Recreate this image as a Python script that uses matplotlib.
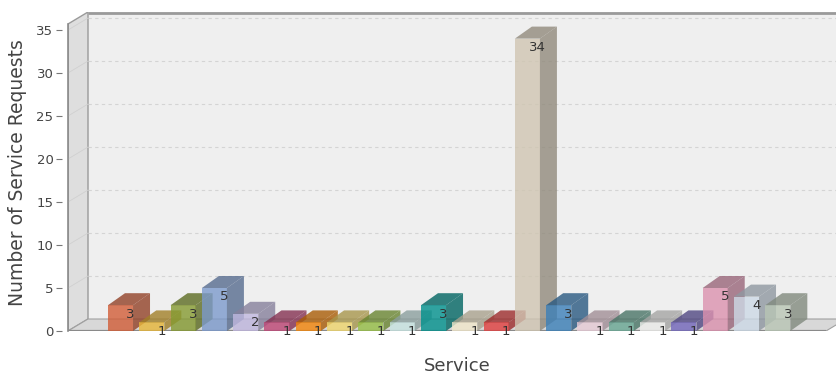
import matplotlib
matplotlib.use("Agg")
import matplotlib.pyplot as plt
from matplotlib.patches import Polygon
import numpy as np

# ---- data ----
services = [f"S{i+1}" for i in range(22)]
requests = [3, 1, 3, 5, 2, 1, 1, 1, 1, 1, 3, 1, 1, 34, 3, 1, 1, 1, 1, 5, 4, 3]
y_ticks = [0, 5, 10, 15, 20, 25, 30, 35]
x_label = "Service"
y_label = "Number of Service Requests"

# apparent front-face colours
colors = ["#d77a5c", "#e9c25e", "#9aab57", "#93abd3", "#c9c2e2", "#c8688e",
          "#f29a38", "#f0dc88", "#a8c868", "#cfe6e4", "#2fa3a0", "#f1e9d2",
          "#e36262", "#d6cdbe", "#5f95c3", "#e9d3dc", "#84b6a6", "#eeeeec",
          "#8c82c6", "#dfa4bb", "#d3dde8", "#c3cdc0"]

W, H = 837, 377
DPI = 100
fig = plt.figure(figsize=(W / DPI, H / DPI), dpi=DPI)
fig.patch.set_facecolor("white")

# pixel geometry
ax_left, ax_right = 68, 837
y0_px, ytop_px = 331, 12
px_per_unit_y = 301 / 35.0
px_per_cat = 31.3
first_center_px = 120.5

ax = fig.add_axes([ax_left / W, (H - y0_px) / H, (ax_right - ax_left) / W, (y0_px - ytop_px) / H])
ax.set_xlim((ax_left - first_center_px) / px_per_cat, (ax_right - first_center_px) / px_per_cat)
ax.set_ylim(0, (y0_px - ytop_px) / px_per_unit_y)
ax.set_facecolor("none")
for s in ax.spines.values():
    s.set_visible(False)
ax.spines["left"].set_position(("outward", 4))

x_min, _ = ax.get_xlim()
_, y_max = ax.get_ylim()
wall_dx = 20 / px_per_cat
wall_dy = 12 / px_per_unit_y
front_right = (826 - first_center_px) / px_per_cat
front_top = y_max - wall_dy

bg = np.array([0xef, 0xef, 0xef]) / 255.0

# back wall
ax.add_patch(Polygon([(x_min + wall_dx, wall_dy), (front_right + wall_dx + 2, wall_dy),
                      (front_right + wall_dx + 2, y_max), (x_min + wall_dx, y_max)],
                     closed=True, facecolor="#efefef", edgecolor="none", zorder=0))
ax.plot([x_min + wall_dx, front_right + wall_dx + 2], [y_max - 0.1, y_max - 0.1],
        color="#9a9a9a", lw=2, zorder=1, solid_capstyle="butt")
# left wall
ax.add_patch(Polygon([(x_min, 0), (x_min + wall_dx, wall_dy), (x_min + wall_dx, y_max),
                      (x_min, front_top)], closed=True, facecolor="#dedede",
                     edgecolor="#9a9a9a", lw=1.0, zorder=1))
# floor
ax.add_patch(Polygon([(x_min, 0), (front_right, 0), (front_right + wall_dx, wall_dy),
                      (x_min + wall_dx, wall_dy)], closed=True, facecolor="#d8d8d8",
                     edgecolor="#a0a0a0", lw=0.8, zorder=1))
ax.plot([x_min, front_right], [0, 0], color="#8a8a8a", lw=1.6, zorder=1.5,
        solid_capstyle="butt")

# gridlines on the back wall (and faint diagonals on the left wall)
for t in y_ticks[1:]:
    ax.plot([x_min + wall_dx, front_right + wall_dx + 2], [t + wall_dy, t + wall_dy],
            color="#d4d4d4", lw=0.8, ls=(0, (3, 3)), zorder=1.2)
    ax.plot([x_min, x_min + wall_dx], [t, t + wall_dy], color="#d0d0d0", lw=0.6, zorder=1.2)

# y axis line (front edge of left wall)
ax.plot([x_min, x_min], [0, front_top], color="#8a8a8a", lw=1.2, zorder=1.6, clip_on=False)

# bars
alpha = 0.8
bar_half = 0.4
bdx = 17 / px_per_cat
bdy = 12 / px_per_unit_y
for i, (v, c) in enumerate(zip(requests, colors)):
    app = np.array(matplotlib.colors.to_rgb(c))
    base = np.clip((app - (1 - alpha) * bg) / alpha, 0, 1)
    dark = base * 0.7
    x0, x1 = i - bar_half, i + bar_half
    z = 3 + i * 0.01
    ax.add_patch(Polygon([(x0, 0), (x1, 0), (x1, v), (x0, v)], closed=True,
                         facecolor=base, alpha=alpha, edgecolor="none", zorder=z))
    ax.add_patch(Polygon([(x1, 0), (x1 + bdx, bdy), (x1 + bdx, v + bdy), (x1, v)], closed=True,
                         facecolor=dark, alpha=alpha, edgecolor="none", zorder=z))
    ax.add_patch(Polygon([(x0, v), (x1, v), (x1 + bdx, v + bdy), (x0 + bdx, v + bdy)], closed=True,
                         facecolor=dark, alpha=alpha, edgecolor="none", zorder=z))

# value labels
lab_dx = 10 / px_per_cat
lab_dy = 9 / px_per_unit_y
for i, v in enumerate(requests):
    ax.text(i + lab_dx, v - lab_dy, str(v), ha="center", va="center",
            fontsize=9.5, color="#333333", zorder=10)

# axes ticks / labels
ax.set_xticks([])
ax.set_yticks(y_ticks)
ax.set_yticklabels([str(t) for t in y_ticks])
ax.tick_params(axis="y", direction="out", length=4, width=0.8, color="#777777",
               labelcolor="#444444", labelsize=9.5, pad=2.5)
ax.set_xlabel(x_label, fontsize=13, color="#444444")
ax.xaxis.set_label_coords(0.506, -(357 - y0_px) / (y0_px - ytop_px))
ax.set_ylabel(y_label, fontsize=13.5, color="#444444")
ax.yaxis.set_label_coords(-(ax_left - 27) / (ax_right - ax_left), (331 - 173) / (y0_px - ytop_px))

fig.savefig("out.png", dpi=DPI)
